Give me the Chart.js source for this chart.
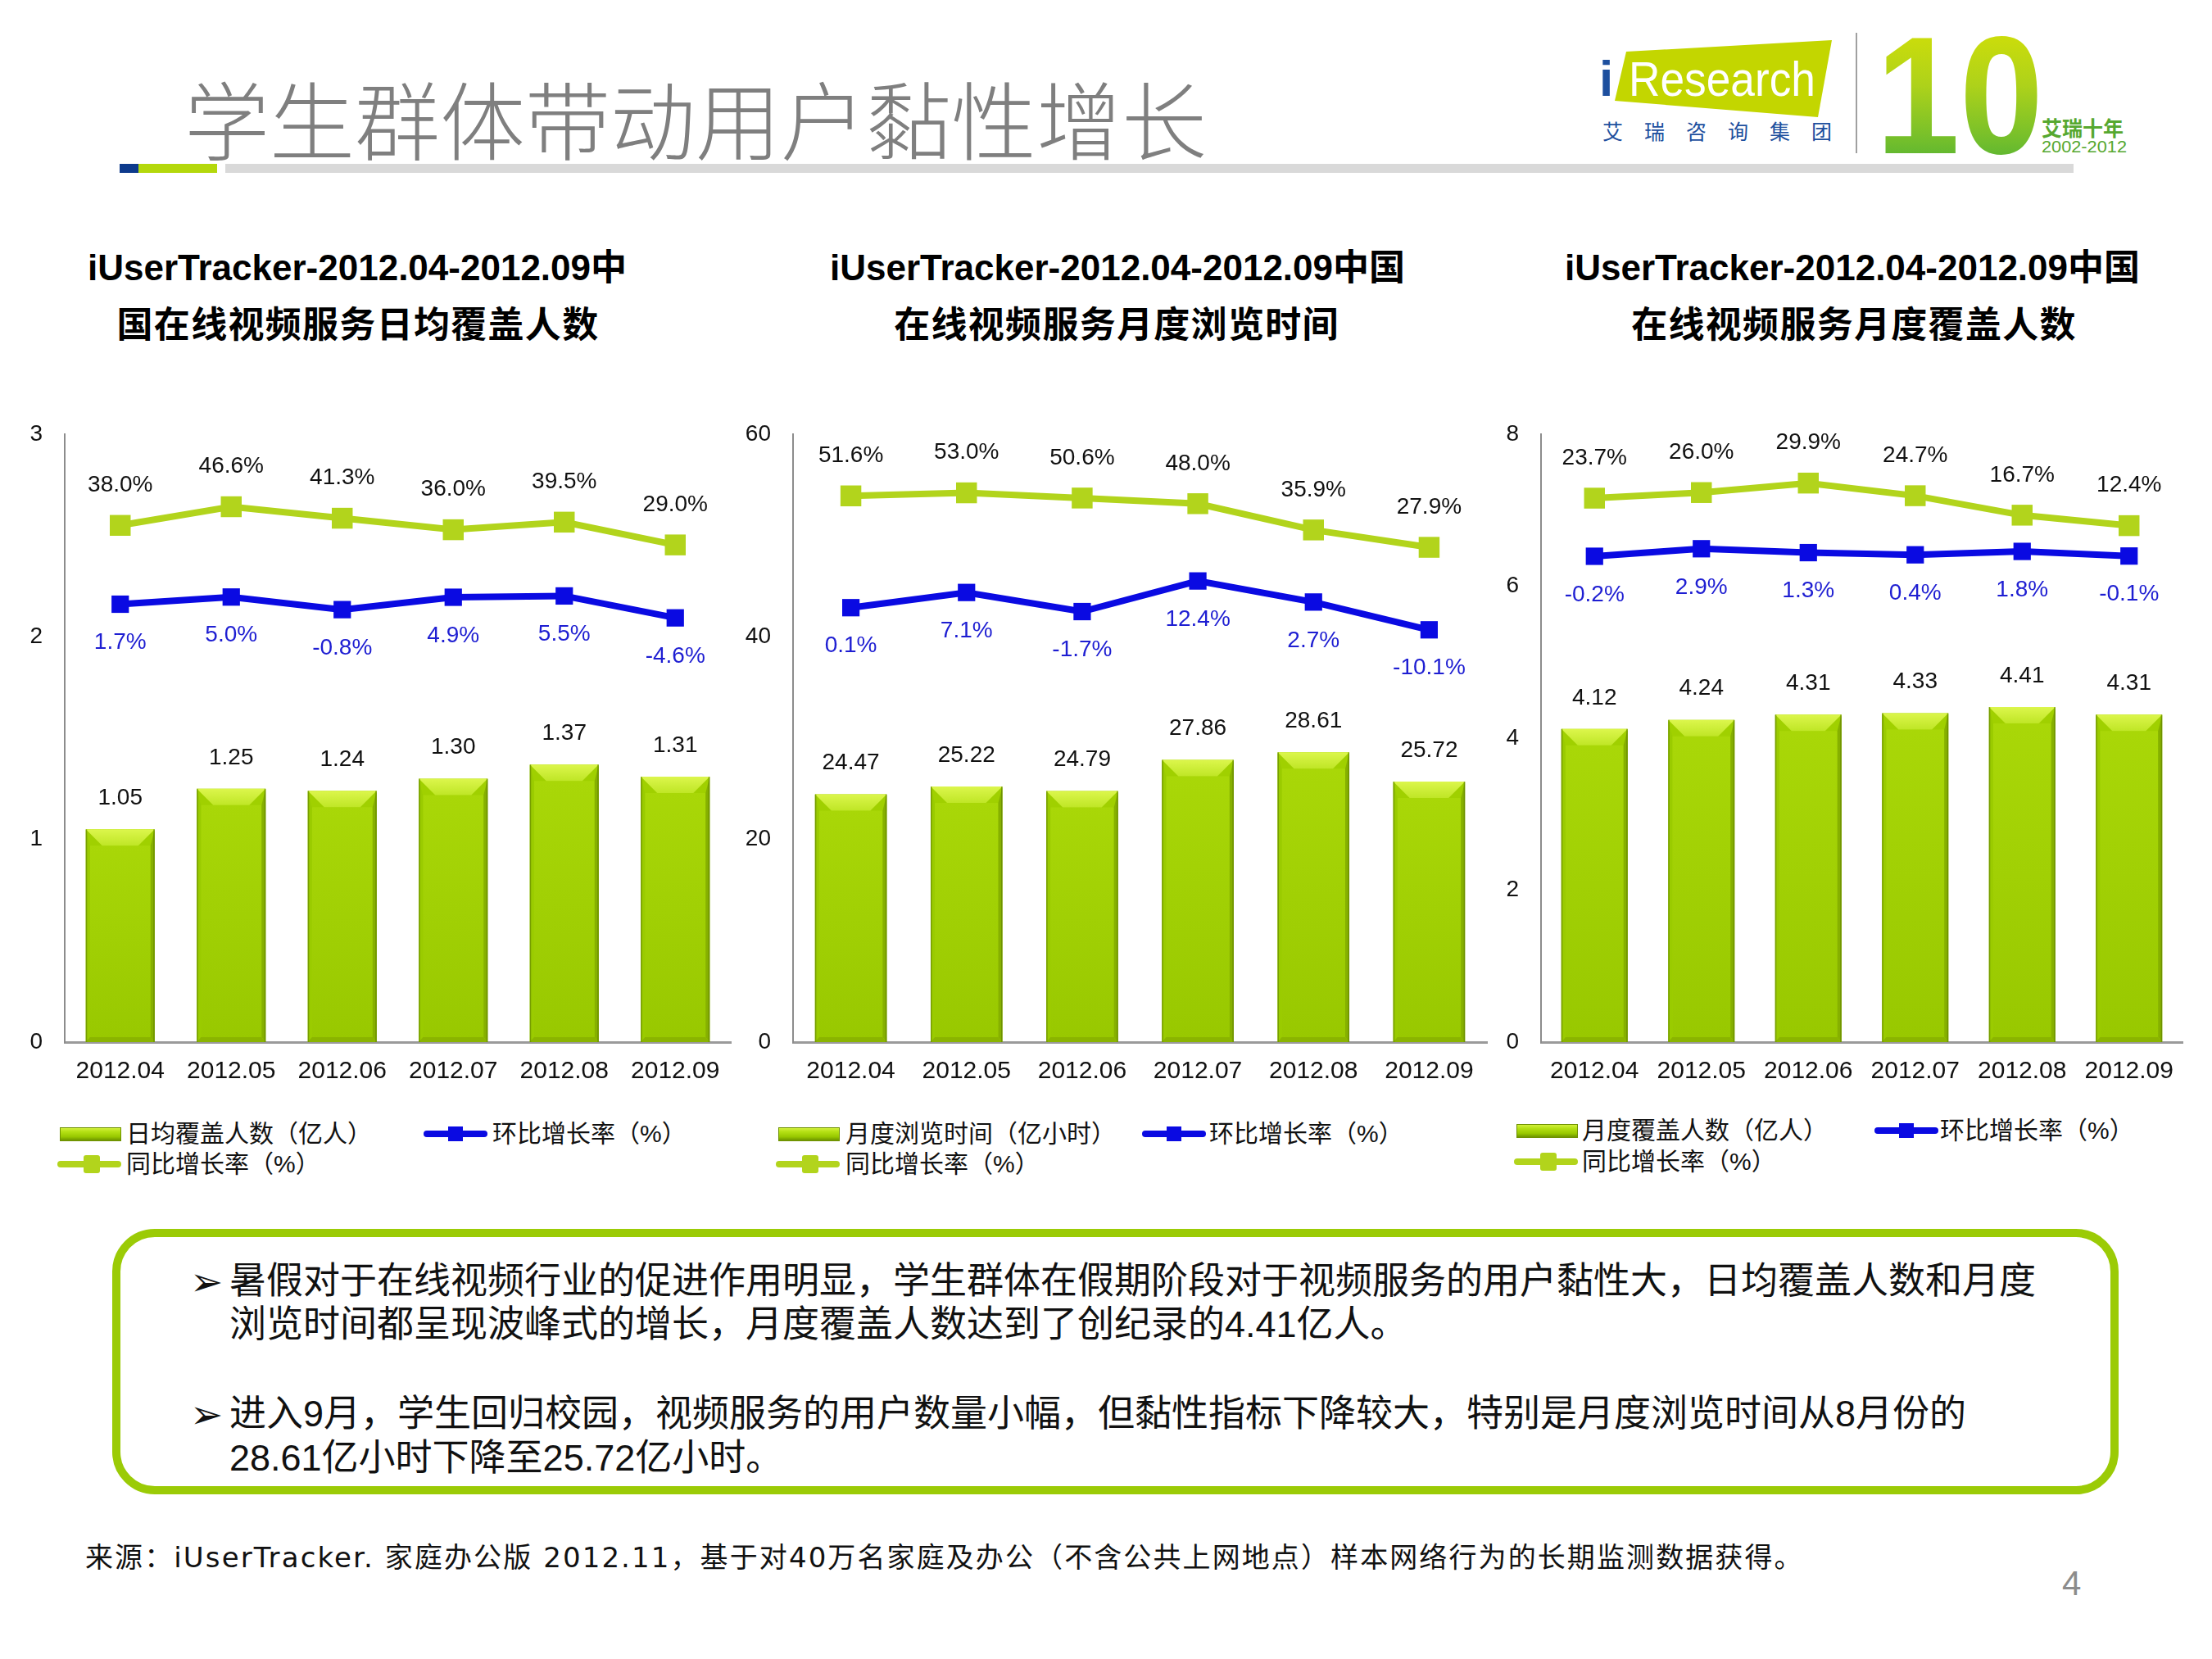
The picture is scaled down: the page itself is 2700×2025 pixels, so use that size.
<!DOCTYPE html>
<html>
<head>
<meta charset="utf-8">
<script src="https://cdn.jsdelivr.net/npm/chart.js@4.4.0/dist/chart.umd.min.js"></script>
<style>
html,body{margin:0;padding:0;background:#fff;}
body{width:2700px;height:2025px;position:relative;overflow:hidden;font-family:"Liberation Sans","Noto Sans CJK SC",sans-serif;color:#111;}
.abs{position:absolute;white-space:nowrap;}
.ctitle{position:absolute;width:1000px;text-align:center;font-size:44px;font-weight:bold;line-height:56px;height:56px;white-space:nowrap;color:#000;}
.leg{position:absolute;font-size:30px;line-height:36px;height:36px;white-space:nowrap;color:#111;}
.swatch{position:absolute;height:17px;background:linear-gradient(#d2f03a 0%,#b4e014 30%,#98c800 70%,#6e9400 100%);border:1px solid #6e9000;box-sizing:border-box;}
.lline{position:absolute;height:8px;border-radius:4px;}
.lmark{position:absolute;}
.box{position:absolute;left:137px;top:1500px;width:2449px;height:324px;border:10px solid #9bcb06;border-radius:52px;box-sizing:border-box;}
.bt{position:absolute;font-size:45px;line-height:56px;height:56px;white-space:nowrap;color:#111;}
.bullet{position:absolute;font-family:"DejaVu Sans",sans-serif;font-size:48px;line-height:56px;height:56px;color:#111;}
canvas{position:absolute;}
</style>
</head>
<body>

<!-- header title -->
<div class="abs" style="left:225px;top:88px;font-size:104px;line-height:110px;height:110px;color:#7f7f7f;font-family:'Noto Sans CJK SC',sans-serif;font-weight:300;">学生群体带动用户黏性增长</div>
<div class="abs" style="left:146px;top:200px;width:23px;height:11px;background:#0d3a8c;"></div>
<div class="abs" style="left:169px;top:200px;width:96px;height:11px;background:#b4d80c;"></div>
<div class="abs" style="left:275px;top:200px;width:2256px;height:11px;background:#d9d9d9;"></div>

<!-- logo -->
<svg class="abs" style="left:1900px;top:20px;" width="780" height="200" viewBox="0 0 780 200">
  <defs>
    <linearGradient id="tenGrad" x1="0" y1="0" x2="0" y2="1">
      <stop offset="0" stop-color="#e0e400"/>
      <stop offset="0.45" stop-color="#aed21a"/>
      <stop offset="0.75" stop-color="#72be2c"/>
      <stop offset="1" stop-color="#3ba83a"/>
    </linearGradient>
  </defs>
  <polygon points="85,43 336,29 319,123 71,103" fill="#c3d600"/>
  <text x="52" y="97" font-family="Liberation Sans, sans-serif" font-weight="bold" font-size="62" fill="#1d4f9e">i</text>
  <text x="88" y="97" font-family="Liberation Sans, sans-serif" font-size="60" fill="#ffffff" textLength="228" lengthAdjust="spacingAndGlyphs">Research</text>
  <text x="56" y="150" font-family="Noto Sans CJK SC, sans-serif" font-size="25" fill="#1d4f9e" textLength="280" lengthAdjust="spacing">艾瑞咨询集团</text>
  <line x1="366" y1="20" x2="366" y2="167" stroke="#a0a0a0" stroke-width="2"/>
  <text x="390" y="167" font-family="Liberation Sans, sans-serif" font-weight="bold" font-size="205" fill="url(#tenGrad)" textLength="204" lengthAdjust="spacingAndGlyphs">10</text>
  <text x="592" y="146" font-family="Noto Sans CJK SC, sans-serif" font-weight="bold" font-size="25" fill="#56a830" textLength="100" lengthAdjust="spacing">艾瑞十年</text>
  <text x="592" y="166" font-family="Liberation Sans, sans-serif" font-size="20" fill="#56a830" textLength="104" lengthAdjust="spacingAndGlyphs">2002-2012</text>
</svg>

<!-- chart titles -->
<div class="ctitle" style="left:-64px;top:299px;">iUserTracker-2012.04-2012.09中</div>
<div class="ctitle" style="left:-63px;top:369px;letter-spacing:1.3px;">国在线视频服务日均覆盖人数</div>
<div class="ctitle" style="left:864px;top:299px;">iUserTracker-2012.04-2012.09中国</div>
<div class="ctitle" style="left:863px;top:369px;letter-spacing:1.3px;">在线视频服务月度浏览时间</div>
<div class="ctitle" style="left:1761px;top:299px;">iUserTracker-2012.04-2012.09中国</div>
<div class="ctitle" style="left:1763px;top:369px;letter-spacing:1.3px;">在线视频服务月度覆盖人数</div>

<canvas id="c1"></canvas>
<canvas id="c2"></canvas>
<canvas id="c3"></canvas>

<!-- legends -->
<div id="legends"></div>

<!-- text box -->
<div class="box"></div>
<div class="bullet" style="left:232px;top:1536px;">➢</div>
<div class="bt" style="left:280px;top:1536px;">暑假对于在线视频行业的促进作用明显，学生群体在假期阶段对于视频服务的用户黏性大，日均覆盖人数和月度</div>
<div class="bt" style="left:280px;top:1589px;">浏览时间都呈现波峰式的增长，月度覆盖人数达到了创纪录的4.41亿人。</div>
<div class="bullet" style="left:232px;top:1698px;">➢</div>
<div class="bt" style="left:280px;top:1698px;">进入9月，学生回归校园，视频服务的用户数量小幅，但黏性指标下降较大，特别是月度浏览时间从8月份的</div>
<div class="bt" style="left:280px;top:1752px;">28.61亿小时下降至25.72亿小时。</div>

<div class="abs" style="left:104px;top:1879px;font-size:34px;line-height:44px;color:#111;letter-spacing:2.1px;font-family:'DejaVu Sans','Noto Sans CJK SC',sans-serif;">来源：iUserTracker. 家庭办公版 2012.11，基于对40万名家庭及办公（不含公共上网地点）样本网络行为的长期监测数据获得。</div>
<div class="abs" style="left:2517px;top:1909px;font-size:42px;line-height:48px;color:#8c8c8c;">4</div>

<script>
// ---------------- data ----------------
const months = ['2012.04', '2012.05', '2012.06', '2012.07', '2012.08', '2012.09'];

const dailyReach    = [1.05, 1.25, 1.24, 1.30, 1.37, 1.31];      // 日均覆盖人数（亿人）
const dailyReachMoM = [1.7, 5.0, -0.8, 4.9, 5.5, -4.6];          // 环比增长率（%）
const dailyReachYoY = [38.0, 46.6, 41.3, 36.0, 39.5, 29.0];      // 同比增长率（%）
const dailyReachTicks = [0, 1, 2, 3];

const browseHours    = [24.47, 25.22, 24.79, 27.86, 28.61, 25.72]; // 月度浏览时间（亿小时）
const browseHoursMoM = [0.1, 7.1, -1.7, 12.4, 2.7, -10.1];
const browseHoursYoY = [51.6, 53.0, 50.6, 48.0, 35.9, 27.9];
const browseHoursTicks = [0, 20, 40, 60];

const monthlyReach    = [4.12, 4.24, 4.31, 4.33, 4.41, 4.31];    // 月度覆盖人数（亿人）
const monthlyReachMoM = [-0.2, 2.9, 1.3, 0.4, 1.8, -0.1];
const monthlyReachYoY = [23.7, 26.0, 29.9, 24.7, 16.7, 12.4];
const monthlyReachTicks = [0, 2, 4, 6, 8];

const rateRange12 = [-200, 80];
const rateRange3  = [-200, 50];

const legendNames = {
  bars: ['日均覆盖人数（亿人）', '月度浏览时间（亿小时）', '月度覆盖人数（亿人）'],
  mom: '环比增长率（%）',
  yoy: '同比增长率（%）'
};

// ---------------- styles ----------------
const BLUE = '#0a0ae2';
const LIME = '#b2d41c';
const BAR = '#a0d000';
const FONT = '"Liberation Sans", Arial, sans-serif';

function poly(ctx, pts, fill) {
  ctx.beginPath();
  ctx.moveTo(pts[0][0], pts[0][1]);
  for (let i = 1; i < pts.length; i++) ctx.lineTo(pts[i][0], pts[i][1]);
  ctx.closePath();
  ctx.fillStyle = fill;
  ctx.fill();
}

const bevelPlugin = {
  id: 'bevel',
  afterDatasetDraw(chart, args) {
    const meta = args.meta;
    if (meta.type !== 'bar') return;
    const ctx = chart.ctx;
    ctx.save();
    meta.data.forEach(el => {
      const p = el.getProps(['x', 'y', 'base', 'width'], true);
      const l = p.x - p.width / 2, r = p.x + p.width / 2, t = p.y, b = p.base;
      const d = 20;
      let gf = ctx.createLinearGradient(0, t, 0, b);
      gf.addColorStop(0, '#aad808'); gf.addColorStop(1, '#98c800');
      poly(ctx, [[l + 5, t + d], [r - 5, t + d], [r - 5, b - 6], [l + 5, b - 6]], gf);
      poly(ctx, [[l, t], [l + 5, t + d], [l + 5, b - 6], [l, b]], '#9acb00');
      poly(ctx, [[r, t], [r - 5, t + d], [r - 5, b - 6], [r, b]], '#86b000');
      poly(ctx, [[l, b], [l + 5, b - 6], [r - 5, b - 6], [r, b]], '#8ab400');
      let g = ctx.createLinearGradient(0, t, 0, t + d);
      g.addColorStop(0, '#dcf64c'); g.addColorStop(1, '#bfe626');
      poly(ctx, [[l, t], [r, t], [r - d, t + d], [l + d, t + d]], g);
      ctx.strokeStyle = 'rgba(90,120,0,0.55)';
      ctx.lineWidth = 1.5;
      ctx.beginPath();
      ctx.moveTo(r - 0.75, t); ctx.lineTo(r - 0.75, b);
      ctx.moveTo(l + 0.75, t); ctx.lineTo(l + 0.75, b);
      ctx.stroke();
    });
    ctx.restore();
  }
};

const labelPlugin = {
  id: 'valueLabels',
  afterDatasetsDraw(chart) {
    const ctx = chart.ctx;
    ctx.save();
    ctx.font = '28px ' + FONT;
    ctx.textAlign = 'center';
    ctx.textBaseline = 'middle';
    chart.data.datasets.forEach((ds, i) => {
      const meta = chart.getDatasetMeta(i);
      meta.data.forEach((el, j) => {
        const v = ds.data[j];
        let txt, dy, color;
        if (ds.kind === 'bar') { txt = v.toFixed(2); dy = -38; color = '#111'; }
        else if (ds.kind === 'yoy') { txt = v.toFixed(1) + '%'; dy = -49; color = '#111'; }
        else { txt = v.toFixed(1) + '%'; dy = 47; color = '#1e1ed2'; }
        ctx.fillStyle = color;
        ctx.fillText(txt, el.x, el.y + dy);
      });
    });
    ctx.restore();
  }
};

const YW = 75, TOPPAD = 70, XH = 70, RPAD = 10, CANVAS_TOP = 460, AXIS_BOTTOM = 1272;

function buildChart(id, plotLeft, plotRight, bars, mom, yoy, ticks, rateRange) {
  const canvas = document.getElementById(id);
  const w = plotRight - plotLeft + YW + RPAD;
  const h = AXIS_BOTTOM - CANVAS_TOP + XH;
  canvas.width = w; canvas.height = h;
  canvas.style.width = w + 'px'; canvas.style.height = h + 'px';
  canvas.style.left = (plotLeft - YW) + 'px';
  canvas.style.top = CANVAS_TOP + 'px';
  return new Chart(canvas, {
    type: 'bar',
    data: {
      labels: months,
      datasets: [
        { type: 'line', kind: 'mom', label: legendNames.mom, data: mom, yAxisID: 'y1',
          borderColor: BLUE, backgroundColor: BLUE, pointBackgroundColor: BLUE, pointBorderColor: BLUE,
          borderWidth: 8, pointStyle: 'rect', pointRadius: 15, pointHoverRadius: 15, pointBorderWidth: 0,
          tension: 0, order: 0, clip: false },
        { type: 'line', kind: 'yoy', label: legendNames.yoy, data: yoy, yAxisID: 'y1',
          borderColor: LIME, backgroundColor: LIME, pointBackgroundColor: LIME, pointBorderColor: LIME,
          borderWidth: 8, pointStyle: 'rect', pointRadius: 18, pointHoverRadius: 18, pointBorderWidth: 0,
          tension: 0, order: 1, clip: false },
        { type: 'bar', kind: 'bar', data: bars, yAxisID: 'y', backgroundColor: BAR,
          barPercentage: 0.62, categoryPercentage: 1, order: 2 }
      ]
    },
    options: {
      responsive: false,
      animation: false,
      layout: { padding: { left: 0, right: RPAD, top: TOPPAD, bottom: 0 } },
      plugins: { legend: { display: false }, tooltip: { enabled: false } },
      scales: {
        x: {
          grid: { display: false, drawTicks: false },
          border: { display: true, color: '#9a9a9a', width: 3 },
          ticks: { color: '#111', font: { family: FONT, size: 30 }, padding: 18, maxRotation: 0, autoSkip: false },
          afterFit(s) { s.height = XH; }
        },
        y: {
          min: ticks[0], max: ticks[ticks.length - 1],
          afterBuildTicks(s) { s.ticks = ticks.map(v => ({ value: v })); },
          grid: { display: false, drawTicks: false },
          border: { display: true, color: '#8c8c8c', width: 2 },
          ticks: { color: '#111', font: { family: FONT, size: 28 }, padding: 27 },
          afterFit(s) { s.width = YW; }
        },
        y1: { display: false, min: rateRange[0], max: rateRange[1] }
      }
    },
    plugins: [bevelPlugin, labelPlugin]
  });
}

buildChart('c1', 79, 900, dailyReach, dailyReachMoM, dailyReachYoY, dailyReachTicks, rateRange12);
buildChart('c2', 968, 1823, browseHours, browseHoursMoM, browseHoursYoY, browseHoursTicks, rateRange12);
buildChart('c3', 1881, 2672, monthlyReach, monthlyReachMoM, monthlyReachYoY, monthlyReachTicks, rateRange3);

// ---------------- legends (HTML) ----------------
const legendLayout = [
  { sw: 73, txt: 154, bl: 517, btxt: 601, y1: 1384, y2: 1421 },
  { sw: 950, txt: 1032, bl: 1394, btxt: 1476, y1: 1384, y2: 1421 },
  { sw: 1851, txt: 1931, bl: 2288, btxt: 2368, y1: 1380, y2: 1418 }
];
const host = document.getElementById('legends');
legendLayout.forEach((g, i) => {
  const add = (html) => host.insertAdjacentHTML('beforeend', html);
  add(`<div class="swatch" style="left:${g.sw}px;top:${g.y1 - 8}px;width:75px;"></div>`);
  add(`<div class="leg" style="left:${g.txt}px;top:${g.y1 - 18}px;">${legendNames.bars[i]}</div>`);
  add(`<div class="lline" style="left:${g.bl}px;top:${g.y1 - 4}px;width:78px;background:${BLUE};"></div>`);
  add(`<div class="lmark" style="left:${g.bl + 30}px;top:${g.y1 - 9}px;width:18px;height:18px;background:${BLUE};"></div>`);
  add(`<div class="leg" style="left:${g.btxt}px;top:${g.y1 - 18}px;">${legendNames.mom}</div>`);
  add(`<div class="lline" style="left:${g.sw - 3}px;top:${g.y2 - 4}px;width:78px;background:${LIME};"></div>`);
  add(`<div class="lmark" style="left:${g.sw + 29}px;top:${g.y2 - 11}px;width:20px;height:22px;border-radius:3px;background:${LIME};"></div>`);
  add(`<div class="leg" style="left:${g.txt}px;top:${g.y2 - 18}px;">${legendNames.yoy}</div>`);
});
</script>
</body>
</html>
